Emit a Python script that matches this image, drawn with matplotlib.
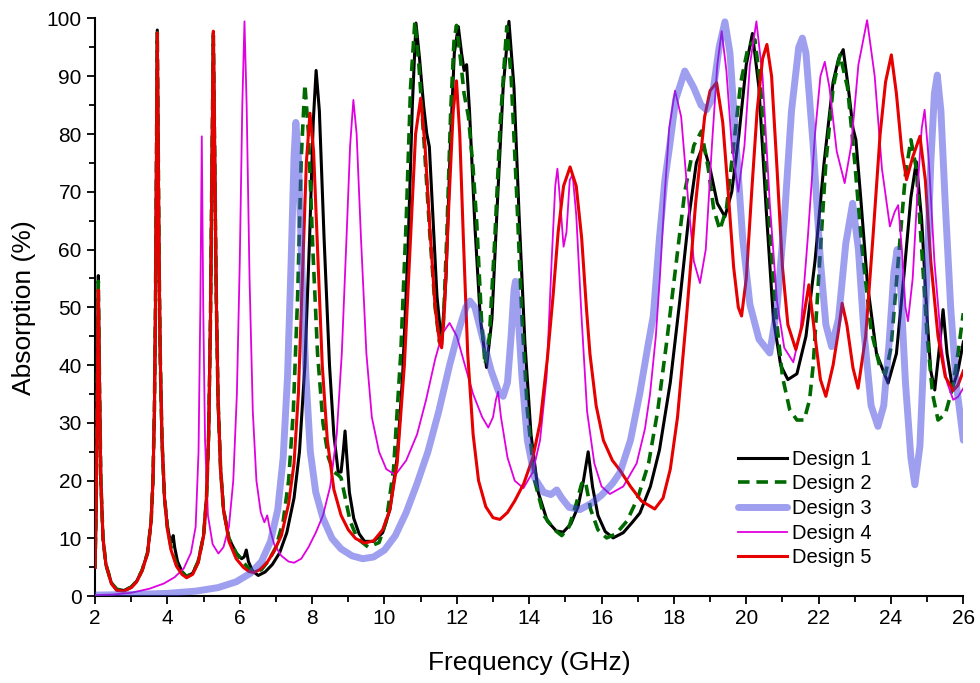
import numpy as np
import matplotlib
matplotlib.use("Agg")
import matplotlib.pyplot as plt
from matplotlib.ticker import MultipleLocator

plt.rcParams['font.family'] = ['Liberation Sans', 'DejaVu Sans']

# absorption spectra, (frequency GHz, absorption %)
design1 = [
    (2.0, 5), (2.03, 15), (2.06, 35), (2.09, 55.5), (2.12, 38), (2.16, 20), (2.22, 10), (2.3, 5.5), (2.45, 2.3), (2.6, 1.2),
    (2.8, 1.0), (3.0, 1.6), (3.15, 2.6), (3.3, 4.5), (3.45, 7.5), (3.55, 13), (3.6, 20), (3.64, 32), (3.67, 50), (3.7, 78),
    (3.72, 98), (3.74, 82), (3.77, 58), (3.8, 42), (3.85, 27), (3.92, 17), (4.0, 12), (4.08, 9.5), (4.13, 9.5), (4.16, 10.5),
    (4.2, 8.5), (4.28, 6), (4.4, 4.3), (4.53, 3.4), (4.7, 4), (4.85, 6), (5.0, 10.5), (5.08, 17), (5.14, 28), (5.19, 48),
    (5.23, 74), (5.27, 97.5), (5.31, 75), (5.35, 52), (5.4, 34), (5.47, 22), (5.55, 15), (5.7, 10), (5.9, 7.5), (6.05, 6.5),
    (6.12, 6.8), (6.18, 8), (6.24, 6), (6.35, 4.4), (6.51, 3.6), (6.7, 4.2), (6.9, 5.5), (7.1, 7.5), (7.3, 11), (7.5, 17),
    (7.65, 25), (7.8, 40), (7.93, 62), (8.03, 82), (8.11, 91), (8.2, 84), (8.33, 62), (8.48, 40), (8.6, 28), (8.72, 21.5),
    (8.8, 21.5), (8.86, 25), (8.91, 28.6), (8.96, 24), (9.03, 18), (9.15, 13.5), (9.3, 10.8), (9.45, 9.5), (9.7, 9.5), (9.95, 11),
    (10.15, 15), (10.35, 24), (10.5, 38), (10.65, 60), (10.77, 85), (10.87, 99.2), (10.97, 93), (11.08, 85), (11.17, 80), (11.24, 77.8),
    (11.32, 68), (11.45, 52), (11.58, 43.5), (11.7, 55), (11.82, 78), (11.93, 94), (12.04, 98.6), (12.13, 94), (12.2, 91), (12.27, 92),
    (12.35, 84), (12.5, 64), (12.65, 48), (12.82, 39.6), (12.97, 48), (13.12, 68), (13.28, 88), (13.44, 99.5), (13.58, 88), (13.72, 66),
    (13.88, 44), (14.05, 28), (14.25, 18), (14.5, 13), (14.75, 11.3), (14.94, 11.1), (15.15, 12.5), (15.35, 15.5), (15.5, 20), (15.63, 25),
    (15.75, 19), (15.9, 14), (16.1, 11.2), (16.32, 10.1), (16.6, 11), (16.85, 12.8), (17.06, 14.4), (17.35, 19), (17.6, 25.3), (17.9, 37),
    (18.16, 51), (18.4, 65), (18.62, 75), (18.81, 78.1), (19.0, 74), (19.2, 68), (19.41, 65.7), (19.6, 70), (19.8, 80), (20.0, 92),
    (20.17, 97.4), (20.35, 88), (20.55, 67), (20.75, 48), (20.95, 40), (21.15, 37.5), (21.4, 38.5), (21.65, 45), (21.9, 58), (22.15, 75),
    (22.4, 89), (22.55, 93), (22.68, 94.6), (22.82, 88), (22.95, 81), (23.03, 79), (23.15, 70), (23.35, 54), (23.6, 42), (23.92, 36.9),
    (24.15, 42), (24.35, 55), (24.55, 69), (24.7, 75.2), (24.85, 65), (25.0, 48), (25.1, 39), (25.21, 35.7), (25.32, 42), (25.44, 49.6),
    (25.55, 42), (25.7, 36), (25.85, 39), (26.0, 44),
]

design2 = [
    (2.0, 5), (2.03, 15), (2.06, 35), (2.09, 54.5), (2.12, 38), (2.16, 20), (2.22, 10), (2.3, 5.5), (2.45, 2.3), (2.6, 1.2),
    (2.8, 1.0), (3.0, 1.6), (3.15, 2.6), (3.3, 4.5), (3.45, 7.5), (3.55, 13), (3.6, 20), (3.64, 32), (3.67, 50), (3.7, 78),
    (3.72, 97.5), (3.74, 82), (3.77, 58), (3.8, 42), (3.85, 27), (3.92, 17), (4.0, 12), (4.1, 8.5), (4.25, 5.5), (4.4, 4.2),
    (4.53, 3.4), (4.7, 4), (4.85, 6), (5.0, 10.5), (5.08, 17), (5.14, 28), (5.19, 48), (5.23, 74), (5.27, 97), (5.31, 75),
    (5.35, 52), (5.4, 34), (5.47, 22), (5.55, 15), (5.7, 10), (5.9, 7.5), (6.05, 6.2), (6.15, 5.5), (6.25, 4.8), (6.4, 4.2),
    (6.6, 4.6), (6.8, 6.2), (7.0, 8.5), (7.2, 13), (7.35, 20), (7.48, 32), (7.6, 52), (7.7, 76), (7.8, 88.6), (7.9, 80),
    (8.02, 60), (8.15, 42), (8.3, 30), (8.45, 24), (8.6, 21.5), (8.72, 21), (8.8, 20.5), (8.9, 17.5), (9.05, 13), (9.25, 10),
    (9.55, 8.5), (9.85, 9.3), (10.05, 13), (10.25, 22), (10.45, 42), (10.6, 65), (10.72, 88), (10.84, 99.5), (10.95, 92), (11.1, 78),
    (11.25, 63), (11.4, 50), (11.52, 44), (11.62, 46), (11.72, 62), (11.83, 84), (11.92, 96), (11.99, 98.8), (12.1, 93), (12.2, 87),
    (12.32, 83), (12.45, 74), (12.55, 64.6), (12.68, 48), (12.78, 40.1), (12.9, 45), (13.05, 62), (13.2, 82), (13.38, 98.6), (13.5, 90),
    (13.65, 70), (13.8, 48), (13.95, 32), (14.15, 20), (14.4, 14), (14.7, 11.5), (14.9, 10.5), (15.1, 12), (15.3, 16), (15.45, 19.5),
    (15.55, 20), (15.7, 15), (15.9, 11.5), (16.14, 10.1), (16.4, 10.8), (16.7, 13), (17.0, 17), (17.3, 23), (17.55, 32), (17.8, 44),
    (18.05, 57), (18.3, 70), (18.55, 78), (18.76, 80.5), (18.95, 74), (19.1, 67), (19.27, 63.4), (19.45, 67), (19.65, 78), (19.85, 89),
    (20.05, 95), (20.24, 96.3), (20.4, 88), (20.6, 68), (20.8, 50), (21.0, 38), (21.2, 32.3), (21.4, 30.5), (21.6, 30.5), (21.75, 34),
    (21.85, 40), (22.0, 55), (22.2, 75), (22.4, 88), (22.59, 93.7), (22.8, 88), (23.0, 75), (23.2, 60), (23.45, 46), (23.7, 39.5),
    (23.85, 38.5), (24.0, 43), (24.2, 58), (24.4, 73), (24.55, 79), (24.7, 74), (24.85, 60), (25.0, 45), (25.15, 35), (25.3, 30.5),
    (25.5, 31.5), (25.7, 36), (25.85, 42), (26.0, 49),
]

design3 = [
    (2.0, 0.2), (3.0, 0.3), (4.0, 0.5), (4.8, 0.9), (5.4, 1.5), (5.9, 2.5), (6.3, 4), (6.6, 6), (6.85, 9.5), (7.05, 15),
    (7.2, 24), (7.32, 38), (7.42, 58), (7.5, 76), (7.55, 82), (7.62, 76), (7.72, 56), (7.83, 38), (7.95, 25), (8.1, 18),
    (8.3, 13.5), (8.55, 10), (8.8, 8.2), (9.1, 7), (9.4, 6.5), (9.7, 6.8), (10.0, 8), (10.3, 10.5), (10.6, 14.5), (10.9, 19.5),
    (11.2, 25), (11.5, 32), (11.8, 40), (12.05, 46), (12.25, 50), (12.36, 51.1), (12.5, 50), (12.7, 45), (12.95, 39), (13.15, 35.5),
    (13.28, 34.6), (13.4, 37), (13.5, 45), (13.58, 53), (13.62, 54.5), (13.68, 50), (13.8, 38), (13.95, 27), (14.15, 20.5), (14.4, 18),
    (14.6, 17.6), (14.76, 18.4), (14.9, 17), (15.1, 15.4), (15.4, 15), (15.7, 16), (16.0, 17.5), (16.3, 19.5), (16.51, 21.4), (16.8, 27),
    (17.06, 35.2), (17.3, 44), (17.43, 48.5), (17.6, 62), (17.75, 72), (17.89, 78.3), (18.05, 86), (18.3, 90.9), (18.55, 88), (18.75, 85),
    (18.9, 84.2), (19.05, 86), (19.25, 95), (19.41, 99.4), (19.55, 94), (19.7, 80), (19.9, 62), (20.1, 50.5), (20.35, 44.5), (20.65, 42.1),
    (20.85, 50), (21.05, 65), (21.25, 84), (21.45, 95), (21.55, 96.6), (21.65, 94), (21.85, 78), (22.05, 58), (22.2, 47), (22.36, 43.2),
    (22.55, 48), (22.75, 61), (22.94, 68), (23.1, 60), (23.25, 46), (23.45, 33), (23.64, 29.4), (23.8, 33), (23.95, 44), (24.08, 56),
    (24.17, 60), (24.27, 53), (24.4, 37), (24.55, 24), (24.66, 19.3), (24.8, 26), (24.95, 48), (25.1, 75), (25.2, 87), (25.28, 90.2),
    (25.38, 84), (25.5, 68), (25.65, 50), (25.8, 37), (26.0, 27),
]

design4 = [
    (2.0, 0.2), (2.5, 0.3), (3.0, 0.6), (3.5, 1.3), (3.9, 2.2), (4.2, 3.3), (4.45, 4.8), (4.65, 7.5), (4.78, 12), (4.86, 25),
    (4.91, 50), (4.95, 79.6), (4.99, 50), (5.04, 27), (5.12, 14), (5.25, 9), (5.41, 7.4), (5.55, 8.5), (5.7, 12), (5.82, 20),
    (5.92, 35), (6.0, 58), (6.07, 85), (6.13, 99.5), (6.19, 85), (6.27, 55), (6.36, 32), (6.46, 20), (6.58, 14.5), (6.68, 12.8),
    (6.76, 14), (6.82, 12), (6.95, 9), (7.15, 7), (7.35, 6), (7.5, 5.8), (7.7, 6.5), (7.9, 8.5), (8.1, 11), (8.3, 14),
    (8.5, 19), (8.68, 28), (8.82, 42), (8.95, 62), (9.05, 78), (9.14, 85.9), (9.23, 80), (9.35, 62), (9.5, 42), (9.65, 31),
    (9.85, 25), (10.05, 22), (10.3, 21), (10.6, 23.5), (10.9, 28), (11.15, 34), (11.4, 41), (11.6, 45.5), (11.8, 47.3), (12.0, 45),
    (12.2, 40.5), (12.45, 35), (12.7, 31), (12.87, 29.2), (13.0, 31), (13.08, 34), (13.14, 35.4), (13.22, 31), (13.4, 24), (13.6, 20),
    (13.84, 18.7), (14.1, 21.5), (14.3, 27), (14.48, 38), (14.62, 58), (14.72, 71), (14.78, 74), (14.86, 68), (14.95, 60.5), (15.03, 63),
    (15.12, 72), (15.2, 73), (15.3, 66), (15.45, 48), (15.6, 32), (15.8, 23), (16.0, 19), (16.23, 17.7), (16.6, 19), (16.97, 23),
    (17.2, 29), (17.34, 35), (17.5, 45), (17.61, 55), (17.75, 70), (17.87, 81), (18.03, 87.5), (18.2, 83), (18.4, 68), (18.55, 58),
    (18.72, 54.2), (18.88, 60), (19.05, 78), (19.2, 92), (19.32, 97.8), (19.45, 91), (19.6, 78), (19.78, 70), (19.95, 78), (20.1, 92),
    (20.28, 99.5), (20.45, 90), (20.65, 68), (20.85, 51), (21.05, 43), (21.3, 40.5), (21.5, 46), (21.7, 62), (21.9, 80), (22.05, 90),
    (22.17, 92.5), (22.3, 88), (22.5, 77), (22.72, 71.5), (22.9, 78), (23.1, 92), (23.34, 99.7), (23.55, 90), (23.75, 74), (23.97, 64),
    (24.1, 66.5), (24.2, 67.7), (24.3, 60), (24.4, 50), (24.47, 47.6), (24.6, 55), (24.75, 72), (24.85, 81), (24.93, 84.2), (25.05, 75),
    (25.2, 58), (25.4, 43), (25.55, 37), (25.72, 34), (25.85, 34.5), (26.0, 36),
]

design5 = [
    (2.0, 5), (2.03, 15), (2.06, 35), (2.09, 53), (2.12, 37), (2.16, 20), (2.22, 10), (2.3, 5.5), (2.45, 2.2), (2.6, 1.0),
    (2.8, 0.9), (3.0, 1.5), (3.15, 2.5), (3.3, 4.4), (3.45, 7.4), (3.55, 13), (3.6, 20), (3.64, 32), (3.67, 50), (3.7, 78),
    (3.72, 97.5), (3.74, 82), (3.77, 58), (3.8, 42), (3.85, 27), (3.92, 17), (4.0, 11.5), (4.1, 8), (4.25, 5.2), (4.4, 3.8),
    (4.53, 3.2), (4.7, 3.8), (4.85, 5.8), (5.0, 10.5), (5.08, 17), (5.14, 28), (5.19, 48), (5.23, 74), (5.27, 97.8), (5.31, 75),
    (5.35, 52), (5.4, 34), (5.47, 22), (5.55, 15), (5.7, 9.5), (5.9, 6.5), (6.1, 5), (6.25, 4.3), (6.38, 4.1), (6.55, 4.6),
    (6.75, 5.8), (6.95, 7.8), (7.15, 10.5), (7.35, 16), (7.5, 23), (7.62, 35), (7.73, 55), (7.84, 75), (7.94, 83.6), (8.04, 77),
    (8.15, 60), (8.28, 40), (8.42, 27), (8.6, 18.5), (8.8, 14), (9.0, 11.5), (9.2, 10), (9.45, 9.2), (9.7, 9.6), (9.95, 11.5),
    (10.15, 15), (10.35, 23), (10.55, 40), (10.72, 62), (10.86, 80), (11.0, 86.2), (11.12, 78), (11.25, 64), (11.4, 50), (11.52, 44),
    (11.58, 43), (11.66, 50), (11.78, 68), (11.9, 84), (11.99, 89.2), (12.08, 80), (12.18, 62), (12.3, 42), (12.45, 28), (12.6, 20),
    (12.8, 15.5), (13.0, 13.6), (13.19, 13.3), (13.4, 14.5), (13.6, 16.5), (13.85, 19.5), (14.1, 24), (14.3, 30), (14.5, 41), (14.66, 52),
    (14.8, 63), (14.95, 71), (15.13, 74.3), (15.3, 71), (15.45, 62), (15.58, 50), (15.68, 41.9), (15.85, 33), (16.05, 27), (16.3, 23.5),
    (16.51, 21.8), (16.8, 19), (17.1, 16.5), (17.47, 15.1), (17.7, 17), (17.9, 22), (18.1, 31), (18.35, 48.5), (18.6, 68), (18.85, 83),
    (19.0, 87.5), (19.18, 88.9), (19.35, 82), (19.5, 70), (19.65, 57), (19.78, 50), (19.87, 48.5), (20.0, 55), (20.15, 70), (20.3, 84),
    (20.45, 93), (20.57, 95.5), (20.7, 90), (20.85, 74), (21.0, 57), (21.15, 47), (21.37, 42.7), (21.55, 47), (21.73, 53.9), (21.9, 45),
    (22.05, 37.5), (22.2, 34.6), (22.4, 40), (22.55, 46), (22.65, 50.7), (22.78, 47), (22.95, 39.5), (23.09, 36), (23.3, 45), (23.5, 62),
    (23.7, 80), (23.85, 89), (24.01, 93.7), (24.15, 87), (24.3, 77), (24.43, 72.1), (24.6, 76), (24.8, 79.6), (24.95, 72), (25.1, 58),
    (25.3, 45), (25.5, 38), (25.72, 35.6), (25.85, 36.5), (26.0, 39),
]

labels = ["Design 1", "Design 2", "Design 3", "Design 4", "Design 5"]


def split(pairs):
    arr = np.array(pairs)
    return arr[:, 0], arr[:, 1]


fig = plt.figure(figsize=(9.8, 6.83), dpi=100)
ax = fig.add_axes([0.097, 0.127, 0.886, 0.846])

f, a = split(design1)
l1, = ax.plot(f, a, color="black", lw=2.2, zorder=3)
f, a = split(design2)
l2, = ax.plot(f, a, color="#006a00", lw=2.6, ls=(0, (3.2, 1.9)), zorder=3)
f, a = split(design3)
l3, = ax.plot(f, a, color="#4040e0", lw=5, alpha=0.5, zorder=4, solid_capstyle="round")
f, a = split(design4)
l4, = ax.plot(f, a, color="#e000e0", lw=1.3, zorder=3)
f, a = split(design5)
l5, = ax.plot(f, a, color="#e60000", lw=2.2, zorder=3)

ax.set_xlim(2, 26)
ax.set_ylim(0, 100)
ax.xaxis.set_major_locator(MultipleLocator(2))
ax.xaxis.set_minor_locator(MultipleLocator(1))
ax.yaxis.set_major_locator(MultipleLocator(10))
ax.yaxis.set_minor_locator(MultipleLocator(5))
ax.tick_params(which="both", direction="out", width=1.3, labelsize=15)
ax.tick_params(which="major", length=6)
ax.tick_params(which="minor", length=4)
for side in ["top", "right"]:
    ax.spines[side].set_visible(False)
for side in ["left", "bottom"]:
    ax.spines[side].set_linewidth(1.5)

ax.set_xlabel("Frequency (GHz)", fontsize=19, labelpad=16)
ax.set_ylabel("Absorption (%)", fontsize=19, labelpad=8)

ax.legend([l1, l2, l3, l4, l5], labels, loc="upper left", bbox_to_anchor=(0.72, 0.285),
          frameon=False, fontsize=14.5, handlelength=2.4, handletextpad=0.25, labelspacing=0.28)

fig.savefig("out.png", dpi=100)
